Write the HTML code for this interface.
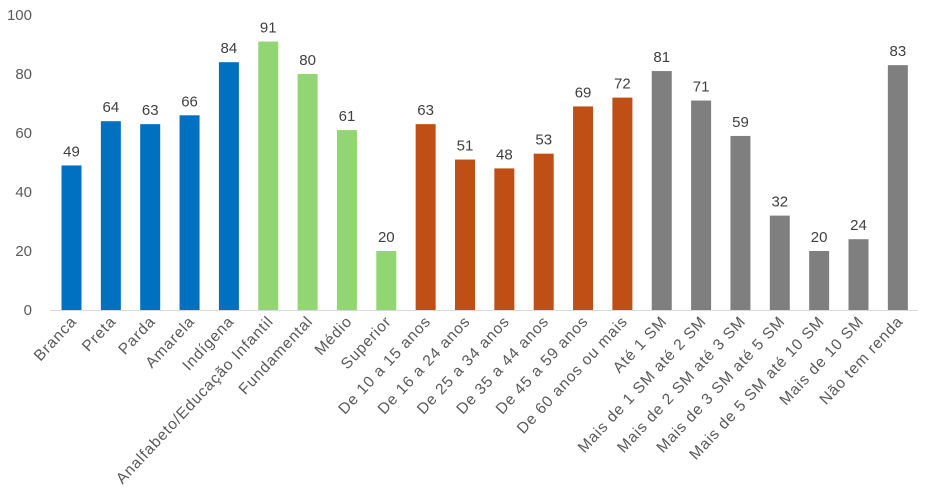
<!DOCTYPE html>
<html><head><meta charset="utf-8"><style>
body{margin:0;background:#fff;}
svg{display:block;font-family:"Liberation Sans",sans-serif;}
.v{font-size:15px;fill:#404040;text-anchor:middle;}
.l{font-size:15.5px;letter-spacing:0.9px;fill:#595959;text-anchor:end;}
</style></head><body>
<svg width="931" height="494" viewBox="0 0 931 494" xmlns="http://www.w3.org/2000/svg">
<g font-size="15" fill="#595959" text-anchor="end">
<text x="32" y="315">0</text>
<text x="32" y="256">20</text>
<text x="32" y="197">40</text>
<text x="32" y="138">60</text>
<text x="32" y="79">80</text>
<text x="32" y="20">100</text>
</g>
<line x1="50" y1="310.5" x2="918" y2="310.5" stroke="#d9d9d9" stroke-width="1"/>

<g transform="translate(71.5,0)"><rect x="-10" y="165.45" width="20" height="144.55" fill="#0070C0"/><text class="v" y="156.45">49</text><text class="l" transform="translate(6,322) rotate(-47)">Branca</text></g>
<g transform="translate(110.85,0)"><rect x="-10" y="121.2" width="20" height="188.8" fill="#0070C0"/><text class="v" y="112.2">64</text><text class="l" transform="translate(6,322) rotate(-47)">Preta</text></g>
<g transform="translate(150.2,0)"><rect x="-10" y="124.15" width="20" height="185.85" fill="#0070C0"/><text class="v" y="115.15">63</text><text class="l" transform="translate(6,322) rotate(-47)">Parda</text></g>
<g transform="translate(189.55,0)"><rect x="-10" y="115.3" width="20" height="194.7" fill="#0070C0"/><text class="v" y="106.3">66</text><text class="l" transform="translate(6,322) rotate(-47)">Amarela</text></g>
<g transform="translate(228.9,0)"><rect x="-10" y="62.2" width="20" height="247.8" fill="#0070C0"/><text class="v" y="53.2">84</text><text class="l" transform="translate(6,322) rotate(-47)">Indígena</text></g>
<g transform="translate(268.25,0)"><rect x="-10" y="41.55" width="20" height="268.45" fill="#92D674"/><text class="v" y="32.55">91</text><text class="l" transform="translate(6,322) rotate(-47)">Analfabeto/Educação Infantil</text></g>
<g transform="translate(307.6,0)"><rect x="-10" y="74" width="20" height="236" fill="#92D674"/><text class="v" y="65">80</text><text class="l" transform="translate(6,322) rotate(-47)">Fundamental</text></g>
<g transform="translate(346.95,0)"><rect x="-10" y="130.05" width="20" height="179.95" fill="#92D674"/><text class="v" y="121.05">61</text><text class="l" transform="translate(6,322) rotate(-47)">Médio</text></g>
<g transform="translate(386.3,0)"><rect x="-10" y="251" width="20" height="59" fill="#92D674"/><text class="v" y="242">20</text><text class="l" transform="translate(6,322) rotate(-47)">Superior</text></g>
<g transform="translate(425.65,0)"><rect x="-10" y="124.15" width="20" height="185.85" fill="#C04F15"/><text class="v" y="115.15">63</text><text class="l" transform="translate(6,322) rotate(-47)">De 10 a 15 anos</text></g>
<g transform="translate(465,0)"><rect x="-10" y="159.55" width="20" height="150.45" fill="#C04F15"/><text class="v" y="150.55">51</text><text class="l" transform="translate(6,322) rotate(-47)">De 16 a 24 anos</text></g>
<g transform="translate(504.35,0)"><rect x="-10" y="168.4" width="20" height="141.6" fill="#C04F15"/><text class="v" y="159.4">48</text><text class="l" transform="translate(6,322) rotate(-47)">De 25 a 34 anos</text></g>
<g transform="translate(543.7,0)"><rect x="-10" y="153.65" width="20" height="156.35" fill="#C04F15"/><text class="v" y="144.65">53</text><text class="l" transform="translate(6,322) rotate(-47)">De 35 a 44 anos</text></g>
<g transform="translate(583.05,0)"><rect x="-10" y="106.45" width="20" height="203.55" fill="#C04F15"/><text class="v" y="97.45">69</text><text class="l" transform="translate(6,322) rotate(-47)">De 45 a 59 anos</text></g>
<g transform="translate(622.4,0)"><rect x="-10" y="97.6" width="20" height="212.4" fill="#C04F15"/><text class="v" y="88.6">72</text><text class="l" transform="translate(6,322) rotate(-47)">De 60 anos ou mais</text></g>
<g transform="translate(661.75,0)"><rect x="-10" y="71.05" width="20" height="238.95" fill="#7F7F7F"/><text class="v" y="62.05">81</text><text class="l" transform="translate(6,322) rotate(-47)">Até 1 SM</text></g>
<g transform="translate(701.1,0)"><rect x="-10" y="100.55" width="20" height="209.45" fill="#7F7F7F"/><text class="v" y="91.55">71</text><text class="l" transform="translate(6,322) rotate(-47)">Mais de 1 SM até 2 SM</text></g>
<g transform="translate(740.45,0)"><rect x="-10" y="135.95" width="20" height="174.05" fill="#7F7F7F"/><text class="v" y="126.95">59</text><text class="l" transform="translate(6,322) rotate(-47)">Mais de 2 SM até 3 SM</text></g>
<g transform="translate(779.8,0)"><rect x="-10" y="215.6" width="20" height="94.4" fill="#7F7F7F"/><text class="v" y="206.6">32</text><text class="l" transform="translate(6,322) rotate(-47)">Mais de 3 SM até 5 SM</text></g>
<g transform="translate(819.15,0)"><rect x="-10" y="251" width="20" height="59" fill="#7F7F7F"/><text class="v" y="242">20</text><text class="l" transform="translate(6,322) rotate(-47)">Mais de 5 SM até 10 SM</text></g>
<g transform="translate(858.5,0)"><rect x="-10" y="239.2" width="20" height="70.8" fill="#7F7F7F"/><text class="v" y="230.2">24</text><text class="l" transform="translate(6,322) rotate(-47)">Mais de 10 SM</text></g>
<g transform="translate(897.85,0)"><rect x="-10" y="65.15" width="20" height="244.85" fill="#7F7F7F"/><text class="v" y="56.15">83</text><text class="l" transform="translate(6,322) rotate(-47)">Não tem renda</text></g>
</svg>
</body></html>
